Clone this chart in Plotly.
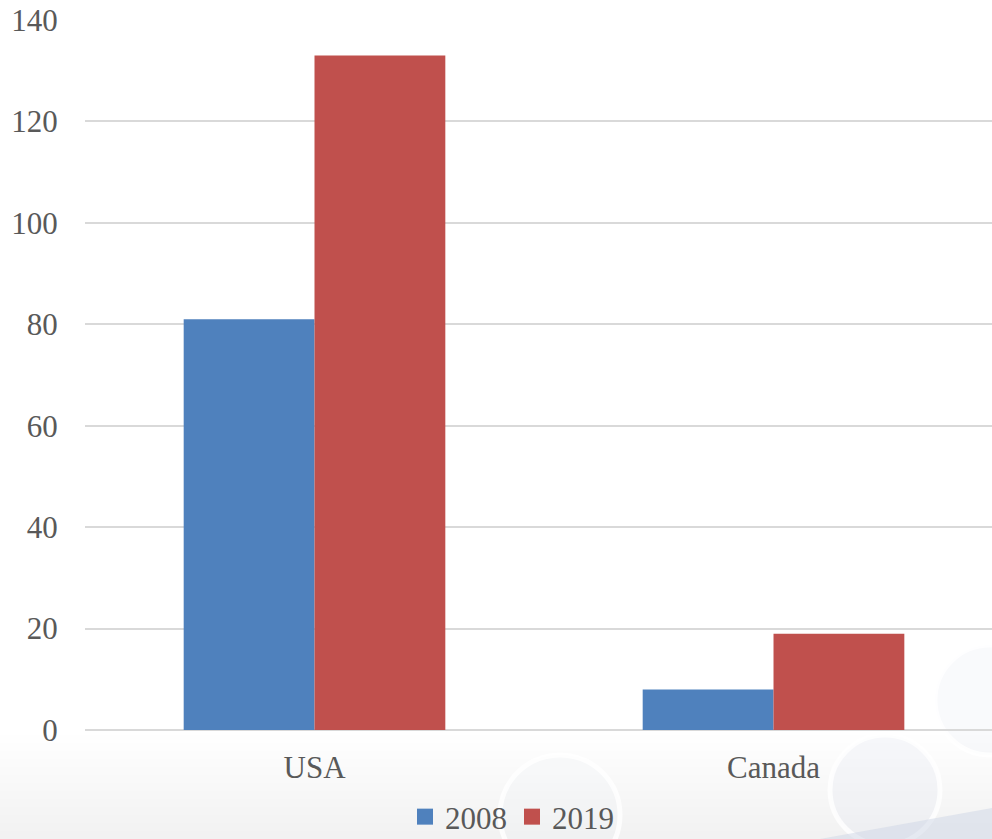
import plotly.graph_objects as go

countries = ["USA", "Canada"]
values_2008 = [81, 8]
values_2019 = [133, 19]
series_names = ["2008", "2019"]
y_ticks = [0, 20, 40, 60, 80, 100, 120, 140]

BLUE = "#4F81BD"
RED = "#C0504D"
TEXT = "#595959"
GRID = "#D9D9D9"
FONT = "Liberation Serif, Times New Roman, serif"
FS = 31

W, H = 992, 839
L, R, T, B = 85, 0, 20, 109
PW, PH = W - L - R, H - T - B


def px_x(x):
    """Pixel column -> plot-area paper x."""
    return (x - L) / PW


def px_y(y):
    """Pixel row (from top) -> plot-area paper y."""
    return (H - B - y) / PH


fig = go.Figure()
for name, vals, color in [(series_names[0], values_2008, BLUE),
                          (series_names[1], values_2019, RED)]:
    fig.add_trace(go.Bar(name=name, x=countries, y=vals, showlegend=False,
                         legendgroup=name,
                         marker=dict(color=color, line=dict(width=0))))
    # square legend key for the series
    fig.add_trace(go.Scatter(name=name, x=[None], y=[None], mode="markers",
                             legendgroup=name,
                             marker=dict(symbol="square", size=16, color=color)))

# soft slide backdrop: a faint tint fading in towards the bottom
shapes = []
for top in range(735, 839, 8):
    shapes.append(dict(
        type="rect", xref="paper", yref="paper", layer="below",
        x0=px_x(0), x1=px_x(W), y0=px_y(H), y1=px_y(top),
        fillcolor="rgba(236,240,247,0.07)", line=dict(width=0)))
# faint bubbles
bubbles = [
    (885, 790, 55, "rgba(228,233,243,0.30)"),
    (990, 700, 55, "rgba(228,233,243,0.22)"),
    (560, 815, 60, "rgba(234,238,246,0.20)"),
]
for cx, cy, r, fill in bubbles:
    shapes.append(dict(
        type="circle", xref="paper", yref="paper", layer="below",
        x0=px_x(cx - r), x1=px_x(cx + r),
        y0=px_y(cy + r), y1=px_y(cy - r),
        fillcolor=fill, line=dict(color="rgba(255,255,255,0.8)", width=5),
    ))
# diagonal band in the bottom-right corner
shapes.append(dict(
    type="path", xref="paper", yref="paper", layer="below",
    path=(f"M {px_x(820)} {px_y(H)} L {px_x(W)} {px_y(808)} "
          f"L {px_x(W)} {px_y(H)} Z"),
    fillcolor="rgba(205,214,230,0.5)", line=dict(width=0),
))

fig.update_layout(
    width=W, height=H,
    margin=dict(l=L, r=R, t=T, b=B, autoexpand=False),
    paper_bgcolor="white", plot_bgcolor="rgba(0,0,0,0)",
    barmode="group", bargap=0.43, bargroupgap=0,
    font=dict(family=FONT, size=FS, color=TEXT),
    showlegend=True,
    legend=dict(orientation="h", xref="paper", yref="paper",
                x=px_x(405), xanchor="left", y=px_y(817), yanchor="middle",
                font=dict(family=FONT, size=31, color=TEXT),
                itemwidth=30, itemsizing="trace", tracegroupgap=0,
                bgcolor="rgba(0,0,0,0)"),
    xaxis=dict(range=[-0.5, 1.476], showgrid=False, zeroline=False,
               showline=False, ticks="outside", ticklen=10,
               tickcolor="rgba(0,0,0,0)", tickfont=dict(size=FS, color=TEXT)),
    yaxis=dict(range=[0, 140], tickvals=y_ticks, showgrid=True,
               gridcolor=GRID, gridwidth=1.5, zeroline=True,
               zerolinecolor=GRID, zerolinewidth=2, showline=False,
               ticks="outside", ticklen=20, tickcolor="rgba(0,0,0,0)",
               tickfont=dict(size=FS, color=TEXT)),
    shapes=shapes,
)

fig.write_html("out.html")
